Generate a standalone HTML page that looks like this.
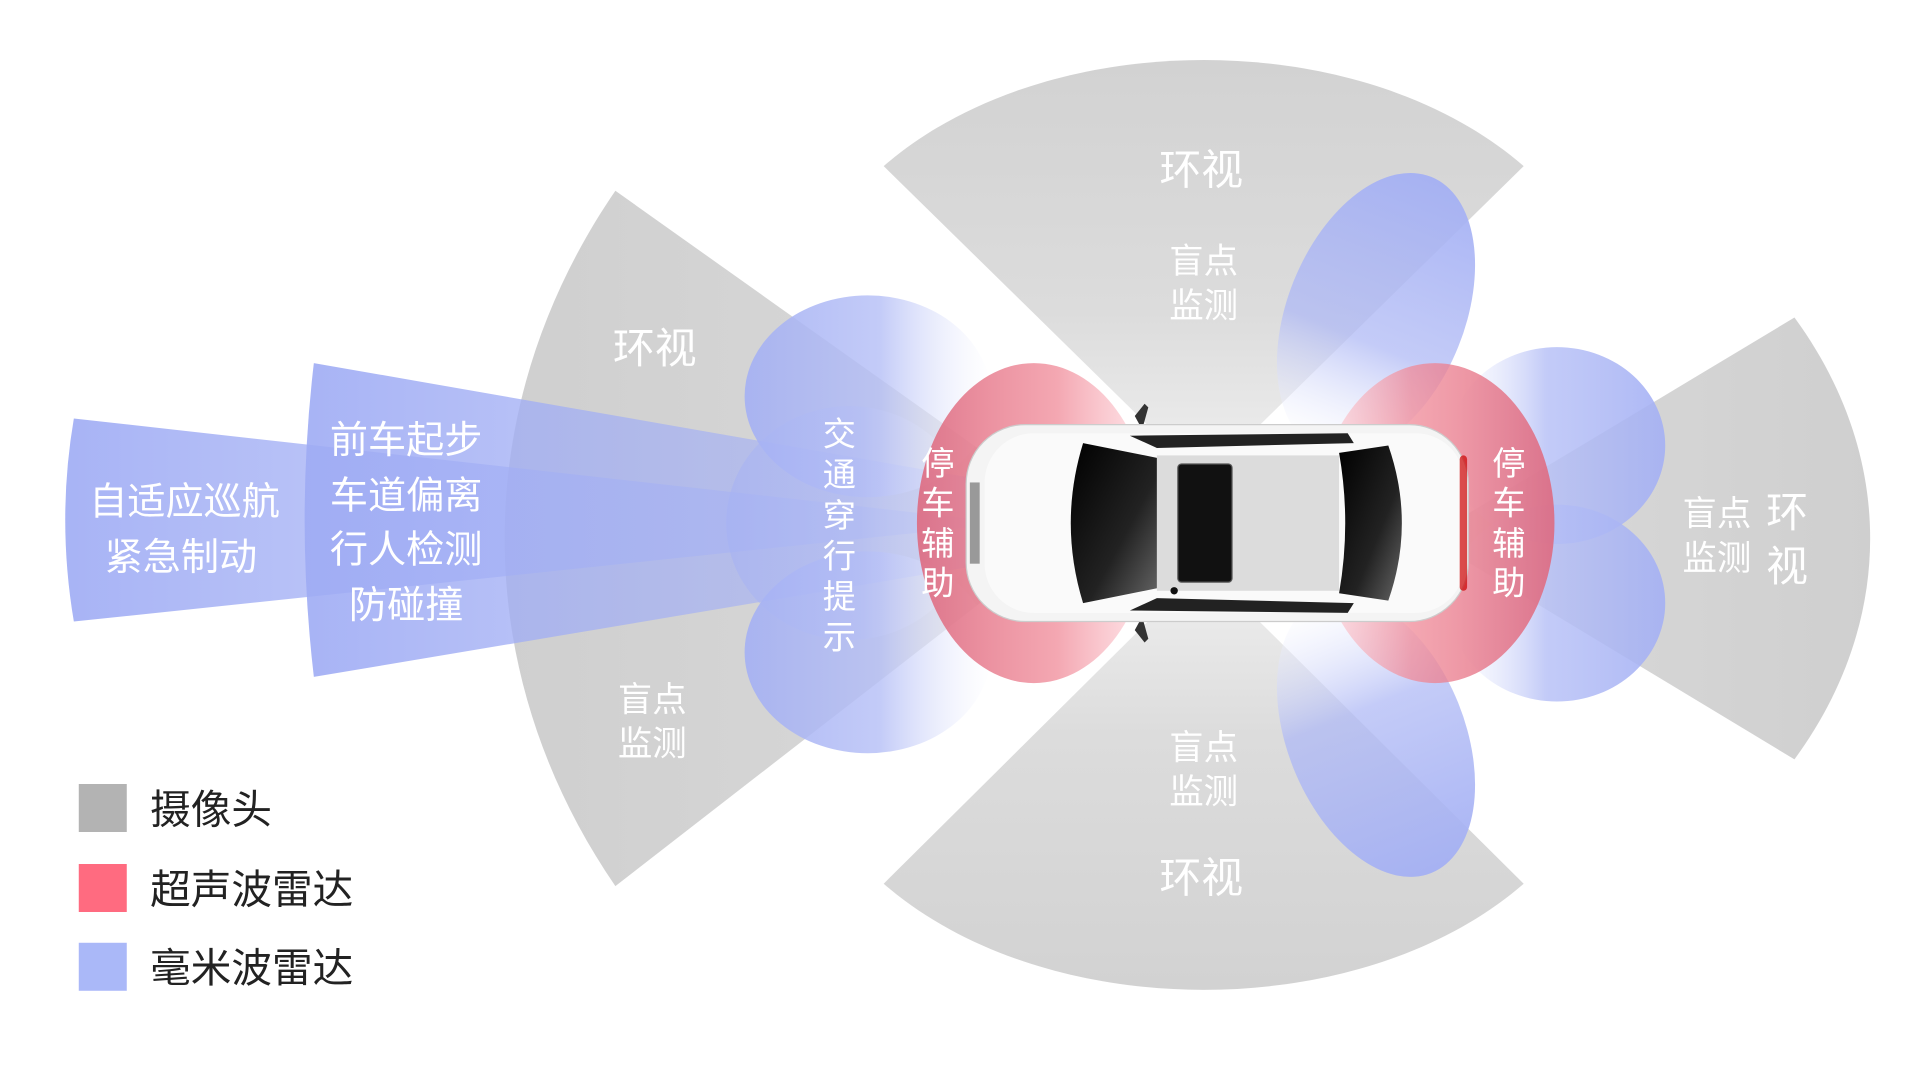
<!DOCTYPE html>
<html><head><meta charset="utf-8"><style>
html,body{margin:0;padding:0;background:#fff;width:1920px;height:1080px;overflow:hidden}
svg{display:block}
text{font-family:"Liberation Sans","Noto Sans CJK SC",sans-serif;fill:#fff}
</style></head><body>
<svg width="1920" height="1080" viewBox="0 0 1560 877.5" xmlns="http://www.w3.org/2000/svg">
<defs>
<linearGradient id="gT" x1="0" y1="0" x2="0" y2="1"><stop offset="0" stop-color="#d2d2d2"/><stop offset="0.6" stop-color="#dcdcdc"/><stop offset="1" stop-color="#f0f0f0"/></linearGradient>
<linearGradient id="gB" x1="0" y1="1" x2="0" y2="0"><stop offset="0" stop-color="#d2d2d2"/><stop offset="0.6" stop-color="#dcdcdc"/><stop offset="1" stop-color="#f0f0f0"/></linearGradient>
<linearGradient id="gL" x1="0" y1="0" x2="1" y2="0"><stop offset="0" stop-color="#cfcfcf"/><stop offset="0.6" stop-color="#d6d6d6"/><stop offset="1" stop-color="#ececec"/></linearGradient>
<linearGradient id="gR" x1="1" y1="0" x2="0" y2="0"><stop offset="0" stop-color="#cfcfcf"/><stop offset="0.6" stop-color="#d6d6d6"/><stop offset="1" stop-color="#ececec"/></linearGradient>
<linearGradient id="bL" x1="0" y1="0" x2="1" y2="0"><stop offset="0" stop-color="#9eabf4" stop-opacity="0.9"/><stop offset="1" stop-color="#aab6f6" stop-opacity="0.35"/></linearGradient>
<linearGradient id="bF" x1="0" y1="0" x2="1" y2="0"><stop offset="0" stop-color="#a4b0f4" stop-opacity="0.9"/><stop offset="0.55" stop-color="#b4bef6" stop-opacity="0.8"/><stop offset="1" stop-color="#ffffff" stop-opacity="0.3"/></linearGradient>
<linearGradient id="bR" x1="1" y1="0" x2="0" y2="0"><stop offset="0" stop-color="#a4b0f4" stop-opacity="0.9"/><stop offset="0.55" stop-color="#b4bef6" stop-opacity="0.8"/><stop offset="1" stop-color="#ffffff" stop-opacity="0.3"/></linearGradient>
<linearGradient id="bS" x1="0" y1="0" x2="0" y2="1"><stop offset="0" stop-color="#a4b0f4" stop-opacity="0.95"/><stop offset="0.6" stop-color="#b0baf5" stop-opacity="0.75"/><stop offset="1" stop-color="#ffffff" stop-opacity="0.3"/></linearGradient>
<linearGradient id="bS2" x1="0" y1="1" x2="0" y2="0"><stop offset="0" stop-color="#a4b0f4" stop-opacity="0.95"/><stop offset="0.6" stop-color="#b0baf5" stop-opacity="0.75"/><stop offset="1" stop-color="#ffffff" stop-opacity="0.3"/></linearGradient>
<linearGradient id="rF" x1="0" y1="0" x2="1" y2="0"><stop offset="0" stop-color="#de6a80" stop-opacity="0.9"/><stop offset="0.6" stop-color="#f08a98" stop-opacity="0.75"/><stop offset="1" stop-color="#ffd6dc" stop-opacity="0.6"/></linearGradient>
<linearGradient id="rR" x1="1" y1="0" x2="0" y2="0"><stop offset="0" stop-color="#de6a80" stop-opacity="0.9"/><stop offset="0.6" stop-color="#f08a98" stop-opacity="0.75"/><stop offset="1" stop-color="#ffd6dc" stop-opacity="0.6"/></linearGradient>
<linearGradient id="glass" x1="0" y1="0" x2="1" y2="1"><stop offset="0" stop-color="#000"/><stop offset="0.6" stop-color="#222"/><stop offset="1" stop-color="#666"/></linearGradient>
</defs>

<!-- camera sectors -->
<path d="M978,390 L718,135 C850,20 1106,20 1238,135 Z" fill="url(#gT)"/>
<path d="M978,460 L718,718 C850,833 1106,833 1238,718 Z" fill="url(#gB)"/>
<path d="M880,425 L500,155 C380,330 380,545 500,720 Z" fill="url(#gL)"/>
<path d="M1160,437 L1458,258 C1540,370 1540,505 1458,617 Z" fill="url(#gR)"/>

<!-- long radar beams -->
<path d="M60,340 L820,425 L60,505 Q46,422 60,340 Z" fill="url(#bL)"/>
<path d="M255,295 L1000,425 L255,550 Q240,422 255,295 Z" fill="url(#bL)"/>

<!-- front lobes -->
<ellipse cx="705" cy="322" rx="100" ry="82" fill="url(#bF)"/>
<ellipse cx="705" cy="530" rx="100" ry="82" fill="url(#bF)"/>
<ellipse cx="690" cy="425" rx="100" ry="95" fill="url(#bF)" opacity="0.6"/>
<!-- rear lobes -->
<ellipse cx="1265" cy="362" rx="88" ry="80" fill="url(#bR)"/>
<ellipse cx="1265" cy="490" rx="88" ry="80" fill="url(#bR)"/>
<!-- side lobes -->
<ellipse cx="1118" cy="255" rx="72" ry="120" transform="rotate(22 1118 255)" fill="url(#bS)"/>
<ellipse cx="1118" cy="598" rx="72" ry="120" transform="rotate(-22 1118 598)" fill="url(#bS2)"/>

<!-- ultrasonic -->
<ellipse cx="840" cy="425" rx="95" ry="130" fill="url(#rF)"/>
<ellipse cx="1166" cy="425" rx="97" ry="130" fill="url(#rR)"/>

<!-- car -->
<g>
<path d="M922,338 l8,-10 l3,3 l-5,18 z" fill="#333"/>
<path d="M922,512 l8,10 l3,-3 l-5,-18 z" fill="#333"/>
<rect x="785" y="345" width="408" height="160" rx="48" fill="#f4f4f4" stroke="#ccc"/>
<rect x="800" y="352" width="390" height="146" rx="40" fill="#fafafa"/>
<path d="M880,360 L940,372 L940,478 L880,490 Q860,425 880,360 Z" fill="url(#glass)"/>
<rect x="940" y="370" width="148" height="110" fill="#dcdcdc"/>
<rect x="957" y="377" width="44" height="96" rx="3" fill="#111" stroke="#555"/>
<path d="M1088,368 L1128,362 Q1150,425 1128,488 L1088,482 Q1098,425 1088,368 Z" fill="url(#glass)"/>
<path d="M918,354 L1095,352 L1100,360 L940,364 Z" fill="#222"/>
<path d="M918,496 L1095,498 L1100,490 L940,486 Z" fill="#222"/>
<rect x="788" y="392" width="8" height="66" fill="#999"/>
<rect x="1186" y="370" width="6" height="110" rx="3" fill="#c00" opacity="0.7"/>
<circle cx="954" cy="480" r="3" fill="#111"/>
</g>

<!-- labels -->
<g font-size="34" text-anchor="middle">
<text x="976" y="150">环视</text>
<text x="976" y="725">环视</text>
<text x="532" y="295">环视</text>
</g>
<g font-size="28" text-anchor="middle">
<text x="978" y="222">盲点</text><text x="978" y="258">监测</text>
<text x="978" y="617">盲点</text><text x="978" y="653">监测</text>
<text x="530" y="578">盲点</text><text x="530" y="614">监测</text>
<text x="1395" y="427">盲点</text><text x="1395" y="463">监测</text>
</g>
<g font-size="34" text-anchor="middle">
<text x="1452" y="428">环</text><text x="1452" y="472">视</text>
</g>
<g font-size="31" text-anchor="middle">
<text x="150" y="418">自适应巡航</text>
<text x="147" y="463">紧急制动</text>
<text x="330" y="368">前车起步</text>
<text x="330" y="413">车道偏离</text>
<text x="330" y="457">行人检测</text>
<text x="330" y="502">防碰撞</text>
</g>
<g font-size="27" text-anchor="middle">
<text x="682" y="362">交</text><text x="682" y="395">通</text><text x="682" y="428">穿</text>
<text x="682" y="461">行</text><text x="682" y="494">提</text><text x="682" y="527">示</text>
<text x="762" y="386">停</text><text x="762" y="418">车</text><text x="762" y="451">辅</text><text x="762" y="483">助</text>
<text x="1226" y="386">停</text><text x="1226" y="418">车</text><text x="1226" y="451">辅</text><text x="1226" y="483">助</text>
</g>

<!-- legend -->
<rect x="64" y="637" width="39" height="39" fill="#b3b3b3"/>
<rect x="64" y="702" width="39" height="39" fill="#ff6b80"/>
<rect x="64" y="766" width="39" height="39" fill="#aab8f8"/>
<g font-size="33" style="fill:#222">
<text x="122" y="669" style="fill:#222">摄像头</text>
<text x="122" y="734" style="fill:#222">超声波雷达</text>
<text x="122" y="798" style="fill:#222">毫米波雷达</text>
</g>
</svg>
</body></html>
